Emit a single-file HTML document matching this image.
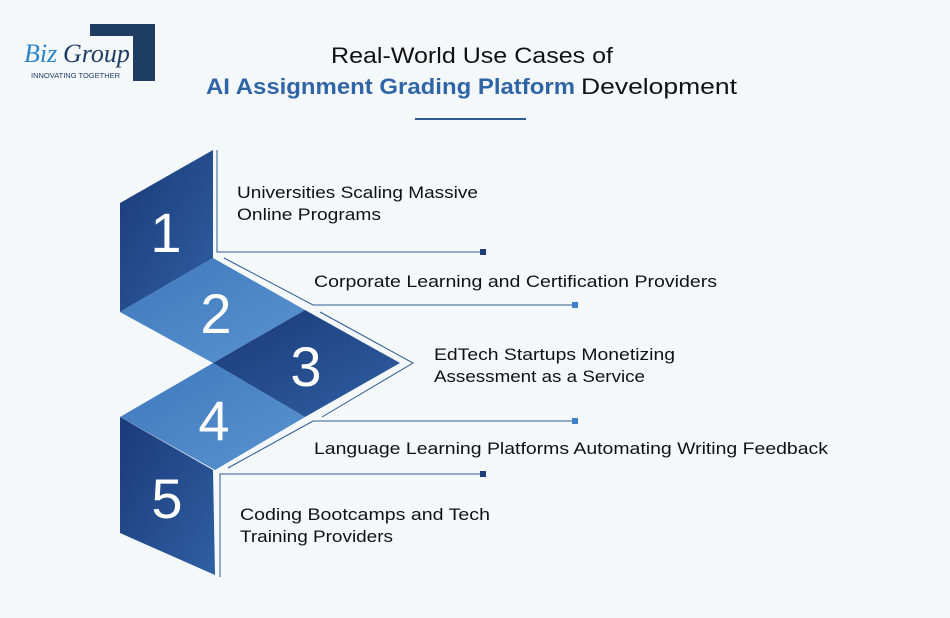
<!DOCTYPE html>
<html><head><meta charset="utf-8"><style>
html,body{margin:0;padding:0;background:#f5f8fb;}
svg{display:block;font-family:"Liberation Sans",sans-serif;}
</style></head><body>
<svg width="950" height="618" viewBox="0 0 950 618" xmlns="http://www.w3.org/2000/svg">
<defs>
<linearGradient id="dk" x1="0" y1="0" x2="1" y2="1"><stop offset="0" stop-color="#1a3a78"/><stop offset="1" stop-color="#2f5fa3"/></linearGradient>
<linearGradient id="lt" x1="0" y1="0" x2="1" y2="1"><stop offset="0" stop-color="#3f79bd"/><stop offset="1" stop-color="#5a93d0"/></linearGradient>
</defs>
<rect width="950" height="618" fill="#f5f8fb"/>
<!-- logo -->
<path d="M90 24 H155 V81 H133 V36 H90 Z" fill="#1f3d63"/>
<text x="24" y="62" font-family="Liberation Serif,serif" font-style="italic" font-size="26" fill="#2b84c6">Biz</text>
<text x="63" y="62" font-family="Liberation Serif,serif" font-style="italic" font-size="26" fill="#1f3d63">Group</text>
<text x="31" y="78" font-size="7.5" fill="#1f3d63">INNOVATING TOGETHER</text>
<!-- title -->
<text x="331" y="63" font-size="22" fill="#111" textLength="282" lengthAdjust="spacingAndGlyphs">Real-World Use Cases of</text>
<text x="206" y="94" font-size="22" font-weight="bold" fill="#2f65a7" textLength="369" lengthAdjust="spacingAndGlyphs">AI Assignment Grading Platform</text>
<text x="581" y="94" font-size="22" fill="#111" textLength="156" lengthAdjust="spacingAndGlyphs">Development</text>
<rect x="415" y="118" width="111" height="2" fill="#2e5a8e"/>
<!-- panels -->
<polygon points="213,150 120,203 120,312 213,258" fill="url(#dk)"/>
<polygon points="213,258 120,312 213,363 305,310" fill="url(#lt)"/>
<polygon points="305,310 213,363 305,417 400,363" fill="url(#dk)"/>
<polygon points="213,363 120,417 215,470 305,417" fill="url(#lt)"/>
<polygon points="120,417 213,470 215,575 120,533" fill="url(#dk)"/>
<g fill="#fff" font-size="56" text-anchor="middle">
<text x="166" y="252">1</text>
<text x="216" y="333">2</text>
<text x="306" y="386">3</text>
<text x="214" y="440">4</text>
<text x="167" y="518">5</text>
</g>
<!-- connectors -->
<g fill="none" stroke="#2e5a95" stroke-width="1">
<polyline points="217,150 217,252 483,252"/>
<polyline points="224,258 313,305 575,305"/>
<polyline points="320,312 413,363 322,417"/>
<polyline points="228,468 313,421 575,421"/>
<polyline points="483,474 220,474 220,577"/>
</g>
<g fill="#1f3d7a">
<rect x="480" y="249" width="6" height="6"/>
<rect x="572" y="302" width="6" height="6" fill="#3f7fc8"/>
<rect x="572" y="418" width="6" height="6" fill="#3f7fc8"/>
<rect x="480" y="471" width="6" height="6"/>
</g>
<g font-size="17" fill="#111" lengthAdjust="spacingAndGlyphs">
<text x="237" y="198" textLength="241" lengthAdjust="spacingAndGlyphs">Universities Scaling Massive</text>
<text x="237" y="220" textLength="144" lengthAdjust="spacingAndGlyphs">Online Programs</text>
<text x="314" y="287" textLength="403" lengthAdjust="spacingAndGlyphs">Corporate Learning and Certification Providers</text>
<text x="434" y="360" textLength="241" lengthAdjust="spacingAndGlyphs">EdTech Startups Monetizing</text>
<text x="434" y="382" textLength="211" lengthAdjust="spacingAndGlyphs">Assessment as a Service</text>
<text x="314" y="454" textLength="514" lengthAdjust="spacingAndGlyphs">Language Learning Platforms Automating Writing Feedback</text>
<text x="240" y="520" textLength="250" lengthAdjust="spacingAndGlyphs">Coding Bootcamps and Tech</text>
<text x="240" y="542" textLength="153" lengthAdjust="spacingAndGlyphs">Training Providers</text>
</g>
</svg>
</body></html>
